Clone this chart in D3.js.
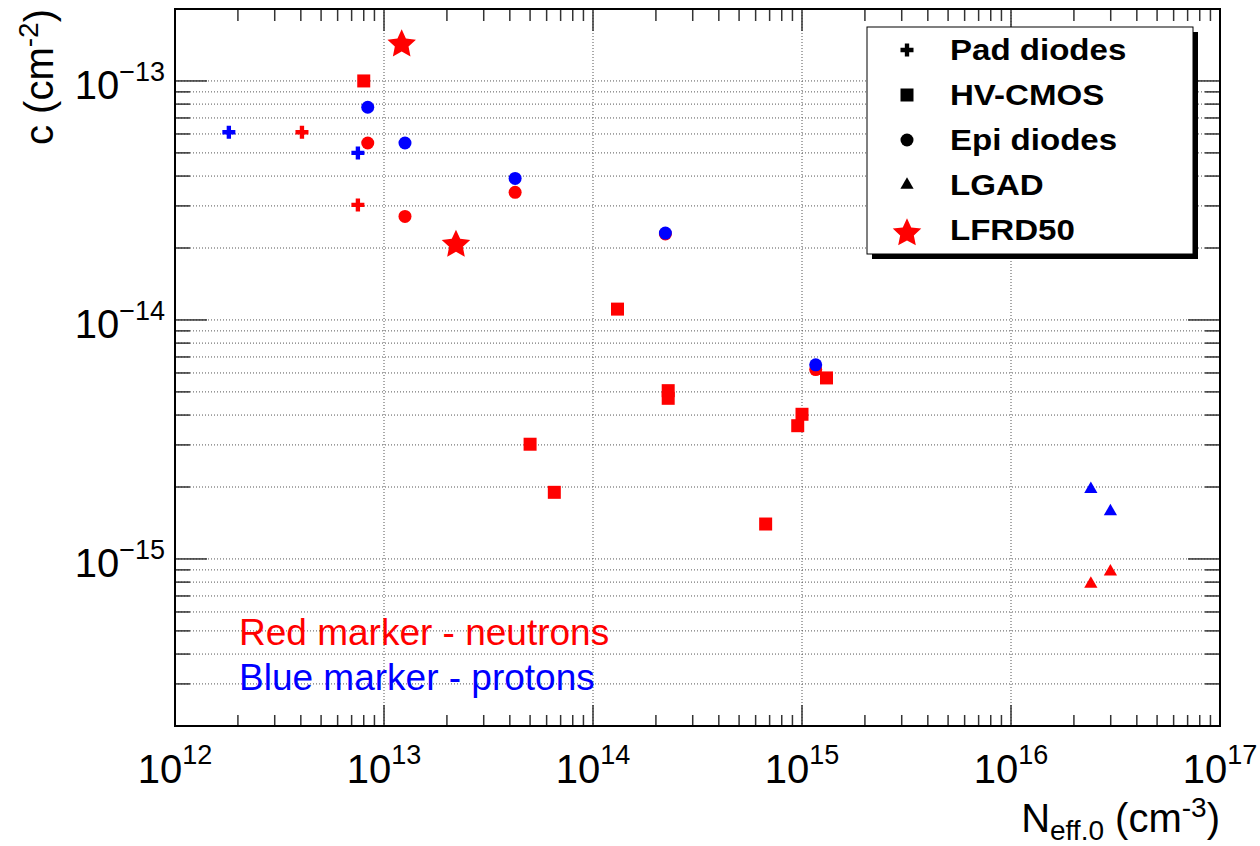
<!DOCTYPE html>
<html lang="en">
<head>
<meta charset="UTF-8">
<title>c vs Neff,0</title>
<script src="https://d3js.org/d3.v7.min.js"></script>
<style>
  body { margin: 0; padding: 0; background: #fff; }
  svg { display: block; }
  text { font-family: "Liberation Sans", Arial, Helvetica, sans-serif; }
  .grid { stroke: #555; stroke-width: 1; stroke-dasharray: 1,2; }
  .tick { stroke: #333; stroke-width: 1.5; }
</style>
</head>
<body>
<svg width="1260" height="846"></svg>
<script>
// data points [N_eff,0 (cm^-3), c (cm^-2)]
const padNeutrons = [[4.05e12, 6.1e-14], [7.5e12, 3.03e-14]];
const padProtons = [[1.81e12, 6.1e-14], [7.5e12, 5.0e-14]];
const hvcmosNeutrons = [
  [8.0e12, 1.0e-13], [1.31e14, 1.11e-14], [2.29e14, 5.06e-15], [2.29e14, 4.70e-15],
  [5.0e13, 3.02e-15], [6.53e13, 1.90e-15], [6.7e14, 1.40e-15], [1.0e15, 4.03e-15],
  [9.54e14, 3.61e-15], [1.31e15, 5.72e-15]
];
const epiNeutrons = [[8.36e12, 5.5e-14], [1.26e13, 2.71e-14], [4.24e13, 3.42e-14], [2.22e14, 2.29e-14], [1.163e15, 6.2e-15]];
const epiProtons = [[8.36e12, 7.76e-14], [1.26e13, 5.5e-14], [4.24e13, 3.91e-14], [2.22e14, 2.31e-14], [1.163e15, 6.49e-15]];
const lgadNeutrons = [[2.41e16, 7.87e-16], [2.99e16, 8.84e-16]];
const lgadProtons = [[2.41e16, 1.96e-15], [2.99e16, 1.58e-15]];
const lfrdNeutrons = [[1.215e13, 1.44e-13], [2.21e13, 2.09e-14]];

const legendNames = ["Pad diodes", "HV-CMOS", "Epi diodes", "LGAD", "LFRD50"];
const xDomain = [1e12, 1e17];
const yDomain = [2e-16, 2e-13];
const xExponents = [12, 13, 14, 15, 16, 17];
const yExponents = [-13, -14, -15];

const RED = "#ff0000", BLUE = "#0000ff";

const fL = 175, fR = 1220, fT = 9, fB = 726;
const svg = d3.select("svg");

const x = d3.scaleLog().domain(xDomain).range([fL, fR]);
const y = d3.scaleLog().domain(yDomain).range([fB, fT]);

// tick values
const xMinor = [];
for (let e = 12; e < 17; e++) for (let m = 2; m <= 9; m++) xMinor.push(m * Math.pow(10, e));
const xMajor = xExponents.map(e => Math.pow(10, e));
const yTicks = [];
for (let e = -16; e <= -13; e++) for (let m = 1; m <= 9; m++) {
  const v = m * Math.pow(10, e);
  if (v > yDomain[0] * 1.0001 && v < yDomain[1] * 0.9999) yTicks.push(v);
}
const isMajorY = v => Math.abs(Math.log10(v) - Math.round(Math.log10(v))) < 1e-6;

// grid
const grid = svg.append("g");
grid.selectAll(null).data(xMajor.slice(1, -1)).enter().append("line")
  .attr("class", "grid")
  .attr("x1", d => x(d)).attr("x2", d => x(d))
  .attr("y1", fT).attr("y2", fB);
grid.selectAll(null).data(yTicks).enter().append("line")
  .attr("class", "grid")
  .attr("x1", fL).attr("x2", fR)
  .attr("y1", d => y(d)).attr("y2", d => y(d));

// ticks
const ticks = svg.append("g");
function xTicks(vals, len) {
  ticks.selectAll(null).data(vals).enter().append("line").attr("class", "tick")
    .attr("x1", d => x(d)).attr("x2", d => x(d)).attr("y1", fB).attr("y2", fB - len);
  ticks.selectAll(null).data(vals).enter().append("line").attr("class", "tick")
    .attr("x1", d => x(d)).attr("x2", d => x(d)).attr("y1", fT).attr("y2", fT + len + 1);
}
xTicks(xMinor, 11);
xTicks(xMajor, 21);
ticks.selectAll(null).data(yTicks).enter().append("line").attr("class", "tick")
  .attr("x1", fL).attr("x2", d => fL + (isMajorY(d) ? 32 : 15))
  .attr("y1", d => y(d)).attr("y2", d => y(d));
ticks.selectAll(null).data(yTicks).enter().append("line").attr("class", "tick")
  .attr("x1", fR).attr("x2", d => fR - (isMajorY(d) ? 32 : 15))
  .attr("y1", d => y(d)).attr("y2", d => y(d));

// frame
svg.append("rect")
  .attr("x", fL).attr("y", fT).attr("width", fR - fL).attr("height", fB - fT)
  .attr("fill", "none").attr("stroke", "#000").attr("stroke-width", 2);

// tick labels
const xl = svg.append("g").selectAll("text").data(xExponents).enter().append("text")
  .attr("x", d => x(Math.pow(10, d))).attr("y", 783)
  .attr("text-anchor", "middle").attr("fill", "#000");
xl.append("tspan").attr("font-size", 40).text("10");
xl.append("tspan").attr("font-size", 27).attr("dy", -19).text(d => d);

const yl = svg.append("g").selectAll("text").data(yExponents).enter().append("text")
  .attr("x", 165).attr("y", d => y(Math.pow(10, d)) + 18)
  .attr("text-anchor", "end").attr("fill", "#000");
yl.append("tspan").attr("font-size", 40).text("10");
yl.append("tspan").attr("font-size", 27).attr("dy", -18).text(d => "\u2212" + Math.abs(d));

// axis titles
const xt = svg.append("text").attr("x", fR).attr("y", 832).attr("text-anchor", "end");
xt.append("tspan").attr("font-size", 40).text("N");
xt.append("tspan").attr("font-size", 28).attr("dy", 8).text("eff.0");
xt.append("tspan").attr("font-size", 40).attr("dy", -8).text(" (cm");
xt.append("tspan").attr("font-size", 28).attr("dy", -15).text("-3");
xt.append("tspan").attr("font-size", 40).attr("dy", 15).text(")");

const yt = svg.append("text").attr("transform", `translate(53,${fT}) rotate(-90)`).attr("text-anchor", "end");
yt.append("tspan").attr("font-size", 40).text("c (cm");
yt.append("tspan").attr("font-size", 28).attr("dy", -15).text("-2");
yt.append("tspan").attr("font-size", 40).attr("dy", 15).text(")");

// fat 5-point star like ROOT's full star marker
const fatStar = {
  draw(ctx, size) {
    const R = Math.sqrt(size), r = R * 0.48;
    for (let i = 0; i < 10; i++) {
      const a = -Math.PI / 2 + i * Math.PI / 5;
      const rad = i % 2 ? r : R;
      const px = rad * Math.cos(a), py = rad * Math.sin(a) + R * 0.08;
      if (i === 0) ctx.moveTo(px, py); else ctx.lineTo(px, py);
    }
    ctx.closePath();
  }
};

// markers
const symbols = {
  pad: d3.symbol().type(d3.symbolCross).size(94),
  hv: d3.symbol().type(d3.symbolSquare).size(169),
  epi: d3.symbol().type(d3.symbolCircle).size(133),
  lgad: d3.symbol().type(d3.symbolTriangle).size(76),
  lfrd: d3.symbol().type(fatStar).size(225)
};
const series = [
  [padNeutrons, "pad", RED], [padProtons, "pad", BLUE],
  [hvcmosNeutrons, "hv", RED],
  [epiNeutrons, "epi", RED], [epiProtons, "epi", BLUE],
  [lgadNeutrons, "lgad", RED], [lgadProtons, "lgad", BLUE],
  [lfrdNeutrons, "lfrd", RED]
];
const marks = svg.append("g");
series.forEach(([pts, kind, col]) => {
  marks.selectAll(null).data(pts).enter().append("path")
    .attr("d", symbols[kind])
    .attr("transform", d => `translate(${x(d[0])},${y(d[1])})`)
    .attr("fill", col);
});

// annotation
svg.append("text").attr("x", 239).attr("y", 645).attr("font-size", 37).attr("fill", RED).text("Red marker - neutrons");
svg.append("text").attr("x", 239).attr("y", 690).attr("font-size", 37).attr("fill", BLUE).text("Blue marker - protons");

// legend
const lg = svg.append("g");
lg.append("rect").attr("x", 872).attr("y", 32).attr("width", 326).attr("height", 227).attr("fill", "#000");
lg.append("rect").attr("x", 867).attr("y", 27).attr("width", 326).attr("height", 227)
  .attr("fill", "#fff").attr("stroke", "#000").attr("stroke-width", 1);
const legendKinds = ["pad", "hv", "epi", "lgad", "lfrd"];
legendNames.forEach((name, i) => {
  const cy = 50 + 45 * i;
  const kind = legendKinds[i];
  lg.append("path").attr("d", symbols[kind])
    .attr("transform", `translate(907,${kind === "lfrd" ? cy + 2 : cy})`)
    .attr("fill", kind === "lfrd" ? RED : "#000");
  lg.append("text").attr("transform", `translate(950,${cy + 10}) scale(1.14,1.04)`)
    .attr("font-size", 29).attr("font-weight", "bold").attr("fill", "#000").text(name);
});
</script>
</body>
</html>
